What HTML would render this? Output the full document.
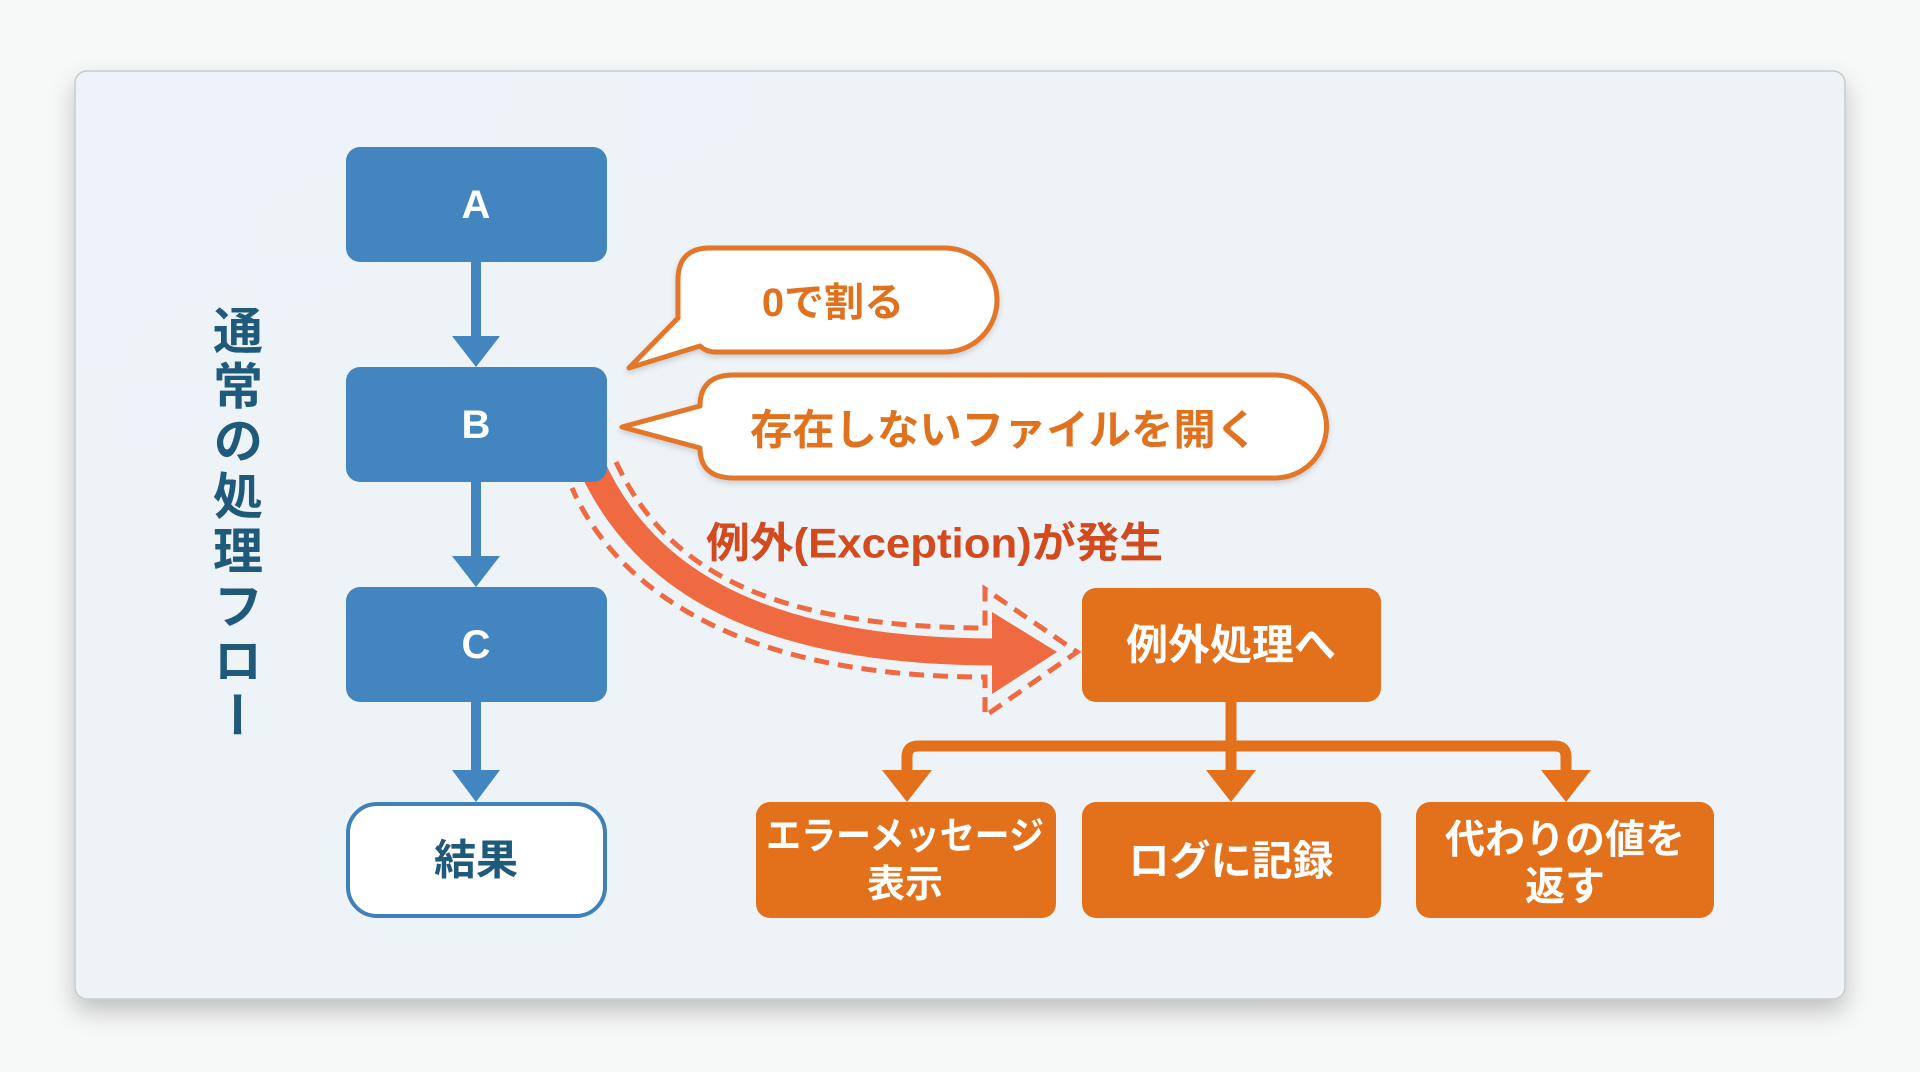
<!DOCTYPE html>
<html>
<head>
<meta charset="utf-8">
<style>
  html,body{margin:0;padding:0;background:#f7f8f8;}
  body{width:1920px;height:1072px;position:relative;overflow:hidden;font-family:"Liberation Sans","Noto Sans CJK JP",sans-serif;}
  svg{position:absolute;left:0;top:0;}
  .vlabel{position:absolute;left:212px;top:305px;width:52px;writing-mode:vertical-rl;font-family:"Noto Sans CJK JP",sans-serif;font-weight:700;font-size:50px;line-height:52px;letter-spacing:5px;color:#1f5a7b;}
</style>
</head>
<body>
<svg width="1920" height="1072" viewBox="0 0 1920 1072" xmlns="http://www.w3.org/2000/svg">
  <defs>
    <filter id="cardsh" x="-5%" y="-5%" width="110%" height="115%">
      <feDropShadow dx="0" dy="12" stdDeviation="12" flood-color="#000" flood-opacity="0.22"/>
    </filter>
    <filter id="bsh" x="-10%" y="-20%" width="120%" height="150%">
      <feDropShadow dx="0" dy="3" stdDeviation="3" flood-color="#000" flood-opacity="0.15"/>
    </filter>
    <linearGradient id="cardg" x1="0" y1="0" x2="1" y2="1">
      <stop offset="0" stop-color="#edf3f8"/>
      <stop offset="1" stop-color="#eff3f8"/>
    </linearGradient>
  </defs>

  <!-- card -->
  <rect x="75" y="71" width="1770" height="928" rx="12" fill="url(#cardg)" stroke="#c6cbd1" stroke-width="1.5" filter="url(#cardsh)"/>

  <!-- blue connectors -->
  <g fill="#4386bf" stroke="none">
    <rect x="471" y="258" width="10" height="80"/>
    <polygon points="452,336 500,336 476,367"/>
    <rect x="471" y="478" width="10" height="80"/>
    <polygon points="452,556 500,556 476,587"/>
    <rect x="471" y="698" width="10" height="74"/>
    <polygon points="452,770 500,770 476,802"/>
  </g>

  <!-- curved exception arrow -->
  <path d="M 590 462 C 636 566, 740 652, 996 652" fill="none" stroke="#ef6a40" stroke-width="27"/>
  <polygon points="992,612 1057,652 992,694" fill="#ef6a40"/>
  <path d="M 616 462 C 660 556, 748 627, 985 628 L 985 589 L 1077 652 L 985 716 L 985 677 C 732 677, 614 584, 572 488"
        fill="none" stroke="#ef6a40" stroke-width="5" stroke-dasharray="15 9"/>

  <!-- blue boxes -->
  <rect x="346" y="147" width="261" height="115" rx="14" fill="#4386bf"/>
  <rect x="346" y="367" width="261" height="115" rx="14" fill="#4386bf"/>
  <rect x="346" y="587" width="261" height="115" rx="14" fill="#4386bf"/>
  <rect x="348" y="804" width="257" height="112" rx="29" fill="#ffffff" stroke="#3f80ba" stroke-width="4"/>

  <g font-family="Liberation Sans, Noto Sans CJK JP, sans-serif" font-weight="700" text-anchor="middle" dominant-baseline="central">
    <text x="476" y="205" font-size="40" fill="#ffffff">A</text>
    <text x="476" y="425" font-size="40" fill="#ffffff">B</text>
    <text x="476" y="645" font-size="40" fill="#ffffff">C</text>
    <text x="476" y="860" font-size="42" fill="#1f5a7b">結果</text>
  </g>

  <!-- speech bubbles -->
  <path d="M 710 248 H 945 A 52 52 0 0 1 945 352 H 716 Q 706 352 700 346 L 629 368 L 678 318 V 280 Q 678 248 710 248 Z"
        fill="#ffffff" stroke="#e2772b" stroke-width="5" stroke-linejoin="round" filter="url(#bsh)"/>
  <path d="M 734 375 H 1275 A 51.5 51.5 0 0 1 1275 478 H 734 Q 700 478 700 448 L 622 427 L 700 406 Q 700 375 734 375 Z"
        fill="#ffffff" stroke="#e2772b" stroke-width="5" stroke-linejoin="round" filter="url(#bsh)"/>

  <g font-family="Liberation Sans, Noto Sans CJK JP, sans-serif" font-weight="700" text-anchor="middle" dominant-baseline="central" fill="#e0721f">
    <text x="833" y="303" font-size="40">0で割る</text>
    <text x="1004" y="430" font-size="42" textLength="508" lengthAdjust="spacingAndGlyphs">存在しないファイルを開く</text>
  </g>

  <!-- exception label -->
  <text x="706" y="543" font-family="Liberation Sans, Noto Sans CJK JP, sans-serif" font-weight="700" font-size="42" fill="#d24a1d" dominant-baseline="central" textLength="457" lengthAdjust="spacingAndGlyphs">例外(Exception)が発生</text>

  <!-- exception box -->
  <rect x="1082" y="588" width="299" height="114" rx="14" fill="#e3701a"/>

  <!-- branch connectors -->
  <g fill="none" stroke="#e3701a" stroke-width="11">
    <path d="M 1231 700 V 774"/>
    <path d="M 907 774 V 757 Q 907 746 918 746 H 1555 Q 1566 746 1566 757 V 774"/>
  </g>
  <g fill="#e3701a">
    <polygon points="882,770 932,770 907,802"/>
    <polygon points="1206,770 1256,770 1231,802"/>
    <polygon points="1541,770 1591,770 1566,802"/>
  </g>

  <!-- bottom boxes -->
  <rect x="756" y="802" width="300" height="116" rx="14" fill="#e3701a"/>
  <rect x="1082" y="802" width="299" height="116" rx="14" fill="#e3701a"/>
  <rect x="1416" y="802" width="298" height="116" rx="14" fill="#e3701a"/>

  <g font-family="Liberation Sans, Noto Sans CJK JP, sans-serif" font-weight="700" text-anchor="middle" dominant-baseline="central" fill="#ffffff">
    <text x="1231" y="645" font-size="42">例外処理へ</text>
    <text x="905" y="837" font-size="38" textLength="278" lengthAdjust="spacingAndGlyphs">エラーメッセージ</text>
    <text x="905" y="885" font-size="38">表示</text>
    <text x="1231" y="861" font-size="41">ログに記録</text>
    <text x="1565" y="840" font-size="40">代わりの値を</text>
    <text x="1565" y="887" font-size="40">返す</text>
  </g>
</svg>
<div class="vlabel">通常の処理フロー</div>
</body>
</html>
